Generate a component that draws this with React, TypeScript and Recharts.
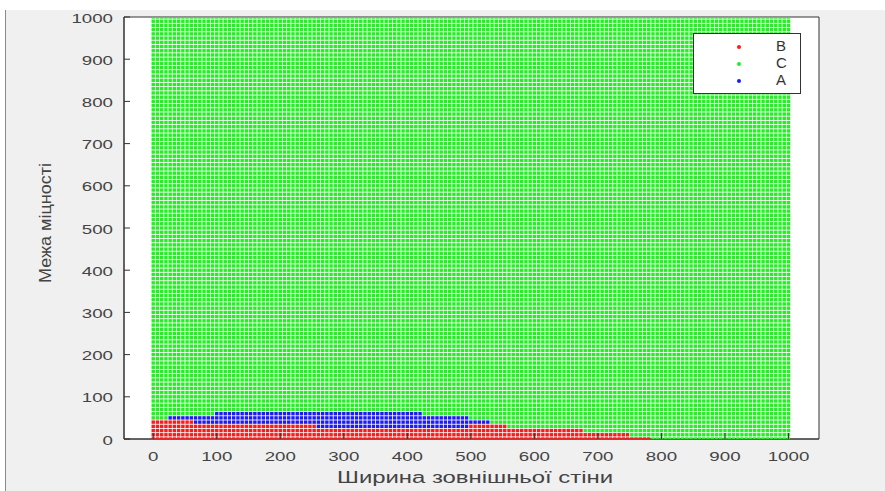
import {
  ScatterChart,
  Scatter,
  XAxis,
  YAxis,
  CartesianGrid,
  ReferenceArea,
  Legend,
} from "recharts";

// class boundaries: for each x segment, the top y of
// class B (red) and the top y of class A (blue); everything above is C
const segStart = [0, 25, 65, 98, 258, 422, 500, 530, 560, 680, 750, 785];
const redTop = [40, 40, 30, 30, 20, 20, 30, 30, 20, 10, 0, -10];
const blueTop = [40, 50, 50, 60, 60, 50, 40, 30, 20, 10, 0, -10];

// sampling lattice of the classified plane
const xSamples = Array.from({ length: 151 }, (_, i) => (i * 1000) / 150);
const ySamples = Array.from({ length: 101 }, (_, j) => j * 10);

const xTicks = [0, 100, 200, 300, 400, 500, 600, 700, 800, 900, 1000];
const yTicks = [0, 100, 200, 300, 400, 500, 600, 700, 800, 900, 1000];

const seriesNames = ["B", "C", "A"];
const seriesColors: Record<string, string> = {
  B: "#ff1a1a",
  C: "#22f022",
  A: "#1a1aff",
};

const classOf = (x: number, y: number) => {
  let k = 0;
  for (let i = 0; i < segStart.length; i++) if (segStart[i] <= x) k = i;
  if (y <= redTop[k]) return "B";
  if (y <= blueTop[k]) return "A";
  return "C";
};

const points: Record<string, { x: number; y: number }[]> = { B: [], C: [], A: [] };
for (const x of xSamples) {
  for (const y of ySamples) points[classOf(x, y)].push({ x, y });
}

const TEXT = "#444";
const FONT = "'Liberation Sans', Arial, sans-serif";

const PLOT_LEFT = 124;
const PLOT_BOTTOM = 439;

function XTick({ x, payload }: any) {
  const s = String(payload.value);
  return (
    <g>
      <line x1={x} x2={x} y1={PLOT_BOTTOM} y2={PLOT_BOTTOM - 6} stroke="#333" />
      <text
        x={x}
        y={461}
        textAnchor="middle"
        fontSize={13.5}
        fill={TEXT}
        fontFamily={FONT}
        textLength={10.4 * s.length}
        lengthAdjust="spacingAndGlyphs"
      >
        {s}
      </text>
    </g>
  );
}

function YTick({ y, payload }: any) {
  const s = String(payload.value);
  return (
    <g>
      <line x1={PLOT_LEFT} x2={PLOT_LEFT + 6} y1={y} y2={y} stroke="#333" />
      <text
        x={113}
        y={y + 5.5}
        textAnchor="end"
        fontSize={13.5}
        fill={TEXT}
        fontFamily={FONT}
        textLength={10.4 * s.length}
        lengthAdjust="spacingAndGlyphs"
      >
        {s}
      </text>
    </g>
  );
}

function XTitle() {
  return (
    <text
      x={475}
      y={483}
      textAnchor="middle"
      fontSize={16}
      fill={TEXT}
      fontFamily={FONT}
      textLength={276}
      lengthAdjust="spacingAndGlyphs"
    >
      Ширина зовнішньої стіни
    </text>
  );
}

function YTitle() {
  return (
    <text
      x={0}
      y={0}
      transform="translate(51, 223) rotate(-90)"
      textAnchor="middle"
      fontSize={16}
      fill={TEXT}
      fontFamily={FONT}
      textLength={120}
      lengthAdjust="spacingAndGlyphs"
    >
      Межа міцності
    </text>
  );
}

const makeDot = (color: string) => (props: any) =>
  <rect x={props.cx - 1.7} y={props.cy - 1.7} width={3.4} height={3.4} fill={color} />;

function LegendBox() {
  return (
    <div
      style={{
        width: 108,
        height: 61,
        boxSizing: "border-box",
        border: "1px solid #333",
        background: "#fff",
        position: "relative",
        fontFamily: FONT,
      }}
    >
      {seriesNames.map((name, i) => (
        <div key={name}>
          <span
            style={{
              position: "absolute",
              left: 43,
              top: 11 + i * 17,
              width: 4,
              height: 4,
              borderRadius: 2,
              background: seriesColors[name],
            }}
          />
          <span
            style={{
              position: "absolute",
              left: 82,
              top: 4 + i * 17,
              fontSize: 15,
              lineHeight: "16px",
              color: "#333",
            }}
          >
            {name}
          </span>
        </div>
      ))}
    </div>
  );
}

export default function App() {
  return (
    <div style={{ position: "absolute", left: 0, top: 0, width: 885, height: 491, background: "#fff" }}>
      <div
        style={{
          position: "absolute",
          left: 5,
          top: 10,
          right: 0,
          bottom: 0,
          background: "#f0f0f0",
          borderLeft: "1px solid #8a8a8a",
        }}
      />
      <div style={{ position: "absolute", left: 0, top: 0 }}>
        <ScatterChart width={885} height={491} margin={{ top: 17, right: 66, bottom: 0, left: 0 }}>
          <CartesianGrid horizontal={false} vertical={false} fill="#fff" />
          <XAxis
            type="number"
            dataKey="x"
            domain={[-46, 1048]}
            ticks={xTicks}
            allowDataOverflow
            height={52}
            tickLine={false}
            axisLine={{ stroke: "#333" }}
            tick={<XTick />}
            label={<XTitle />}
          />
          <YAxis
            type="number"
            dataKey="y"
            domain={[0, 1000]}
            ticks={yTicks}
            allowDataOverflow
            width={124}
            tickLine={false}
            axisLine={{ stroke: "#333" }}
            tick={<YTick />}
            label={<YTitle />}
          />
          {seriesNames.map((name) => (
            <Scatter
              key={name}
              name={name}
              data={points[name]}
              fill={seriesColors[name]}
              shape={makeDot(seriesColors[name])}
              isAnimationActive={false}
            />
          ))}
          <ReferenceArea
            x1={-46}
            x2={1048}
            y1={0}
            y2={1000}
            fill="none"
            stroke="#333"
            ifOverflow="visible"
          />
          <Legend
            layout="vertical"
            align="center"
            verticalAlign="middle"
            wrapperStyle={{ position: "absolute", left: 693, top: 33, width: 108, height: 61 }}
            content={<LegendBox />}
          />
        </ScatterChart>
      </div>
    </div>
  );
}
